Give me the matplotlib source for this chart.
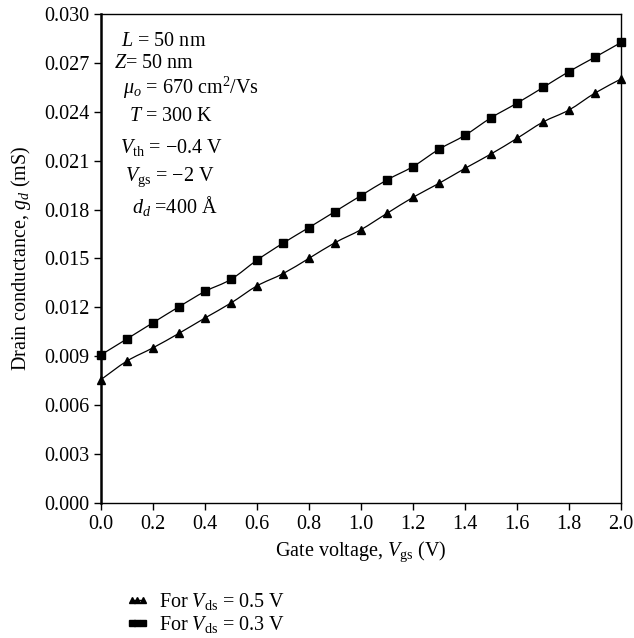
import numpy as np
import matplotlib
matplotlib.use("Agg")
import matplotlib.pyplot as plt
from matplotlib.path import Path
from matplotlib.patches import PathPatch
from matplotlib.lines import Line2D

plt.rcParams['font.family'] = ['Liberation Serif', 'DejaVu Serif']
plt.rcParams['mathtext.fontset'] = 'custom'
plt.rcParams['mathtext.rm'] = 'Liberation Serif'
plt.rcParams['mathtext.it'] = 'Liberation Serif:italic'
plt.rcParams['mathtext.bf'] = 'Liberation Serif:bold'

# gate voltage (V)
vgs = [0.0, 0.1, 0.2, 0.3, 0.4, 0.5, 0.6, 0.7, 0.8, 0.9, 1.0,
       1.1, 1.2, 1.3, 1.4, 1.5, 1.6, 1.7, 1.8, 1.9, 2.0]

# drain conductance (mS)
gd_vds05 = [0.00757, 0.00871, 0.00952, 0.01041, 0.01135, 0.01227, 0.01332,
            0.01407, 0.01501, 0.01597, 0.01677, 0.01777, 0.01875, 0.01961,
            0.02053, 0.02141, 0.02237, 0.02337, 0.02411, 0.02515, 0.02601]
gd_vds03 = [0.00909, 0.01007, 0.01106, 0.01204, 0.01298, 0.01372, 0.01490,
            0.01594, 0.01690, 0.01788, 0.01886, 0.01982, 0.02064, 0.02170,
            0.02256, 0.02363, 0.02453, 0.02549, 0.02647, 0.02735, 0.02825]

x_ticks = [0.0, 0.2, 0.4, 0.6, 0.8, 1.0, 1.2, 1.4, 1.6, 1.8, 2.0]
y_ticks = [0.000, 0.003, 0.006, 0.009, 0.012, 0.015, 0.018, 0.021, 0.024, 0.027, 0.030]

params = [
    (r'$L$ = 50 nm', 0.243, 0.02833),
    (r'$Z$= 50 nm', 0.205, 0.02698),
    (r'$\mu_o$ = 670 cm$^2$/Vs', 0.346, 0.02548),
    (r'$T$ = 300 K', 0.271, 0.02371),
    (r'$V_{\mathrm{th}}$ = −0.4 V', 0.271, 0.02180),
    (r'$V_{\mathrm{gs}}$ = −2 V', 0.264, 0.02000),
    (r'$d_d$ =400 Å', 0.285, 0.01823),
]


def smooth_path(xs, ys):
    # Catmull-Rom spline through the points, written as cubic Bezier segments
    pts = np.column_stack([xs, ys])
    ext = np.vstack([pts[0], pts, pts[-1]])
    verts = [pts[0]]
    codes = [Path.MOVETO]
    for i in range(len(pts) - 1):
        p0, p1, p2, p3 = ext[i], ext[i + 1], ext[i + 2], ext[i + 3]
        c1 = p1 + (p2 - p0) / 6.0
        c2 = p2 - (p3 - p1) / 6.0
        verts += [c1, c2, p2]
        codes += [Path.CURVE4] * 3
    return Path(verts, codes)


fs = 14.5
fig = plt.figure(figsize=(6.34, 6.38), dpi=100)
ax = fig.add_axes([0.1593, 0.2116, 0.8202, 0.7665])

for ys, marker in [(gd_vds05, '^'), (gd_vds03, 's')]:
    ax.add_patch(PathPatch(smooth_path(vgs, ys), facecolor='none',
                           edgecolor='black', lw=0.9, clip_on=False))
    ax.plot(vgs, ys, linestyle='none', marker=marker, markersize=5.5,
            color='black', clip_on=False, zorder=3)

ax.set_xlim(0, 2.0)
ax.set_ylim(0, 0.030)
ax.set_xticks(x_ticks)
ax.set_xticklabels([f'{v:.1f}' for v in x_ticks])
ax.set_yticks(y_ticks)
ax.set_yticklabels([f'{v:.3f}' for v in y_ticks])
ax.tick_params(direction='out', length=5, width=1, labelsize=fs, pad=3.5)

ax.spines['left'].set_linewidth(1.8)
for s in ['bottom', 'top', 'right']:
    ax.spines[s].set_linewidth(1.0)

ax.set_xlabel(r'Gate voltage, $V_{\mathrm{gs}}$ (V)', fontsize=fs, labelpad=4)
ax.set_ylabel(r'Drain conductance, $g_d$ (mS)', fontsize=fs, labelpad=8)

for txt, x, y in params:
    ax.text(x, y, txt, fontsize=fs, ha='center', va='center')

handles = [
    Line2D([], [], color='black', lw=1.0, marker='^', markersize=4),
    Line2D([], [], color='black', lw=1.0, marker='s', markersize=4),
]
labels = [r'For $V_{\mathrm{ds}}$ = 0.5 V', r'For $V_{\mathrm{ds}}$ = 0.3 V']
fig.legend(handles, labels, loc='upper left', bbox_to_anchor=(0.198, 0.073),
           frameon=False, numpoints=3, handlelength=1.15, handletextpad=0.5,
           labelspacing=0.1, borderpad=0, borderaxespad=0, fontsize=fs)

fig.savefig('out.png', dpi=100)
